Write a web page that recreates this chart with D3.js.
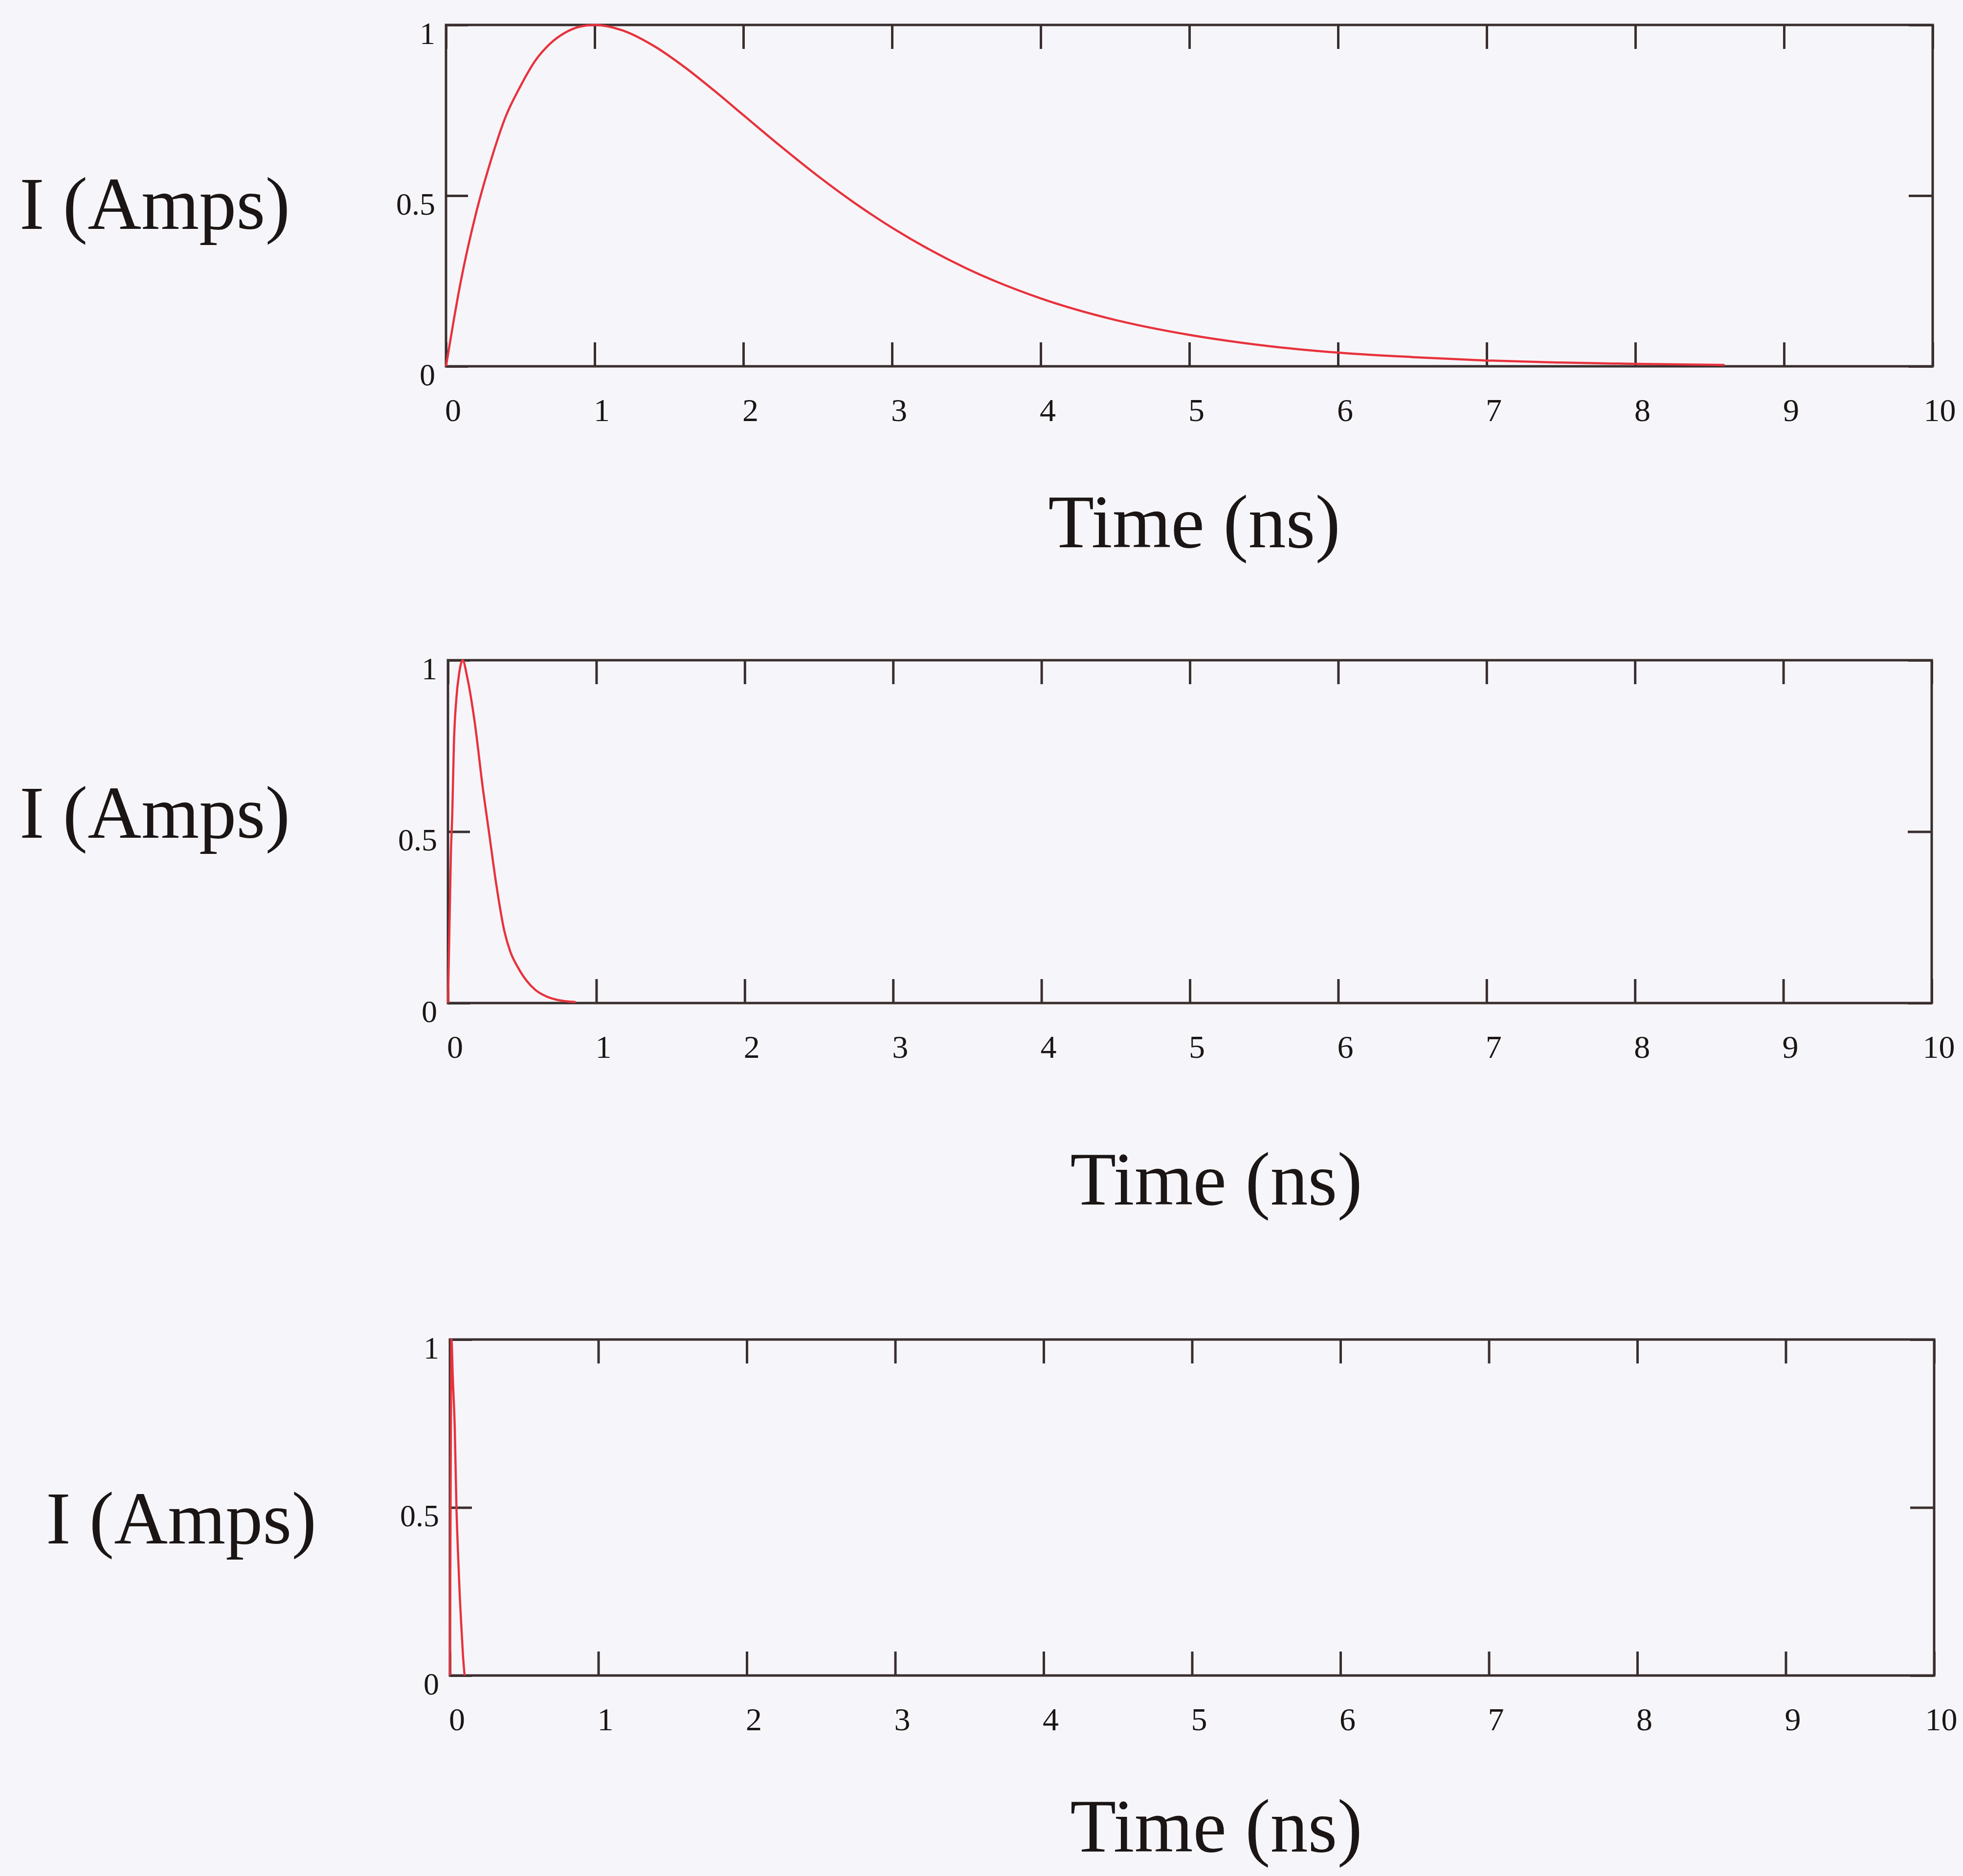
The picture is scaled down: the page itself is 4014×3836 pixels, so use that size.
<!DOCTYPE html>
<html>
<head>
<meta charset="utf-8">
<script src="https://cdn.jsdelivr.net/npm/d3@7"></script>
<style>
  html, body { margin: 0; padding: 0; background: #f6f6fa; }
  svg { display: block; }
</style>
</head>
<body>
<svg id="chart" width="4014" height="3836"></svg>
<script>
// ---------- DATA ----------
const xTickValues = [0, 1, 2, 3, 4, 5, 6, 7, 8, 9, 10];
const xTickLabels = ["0", "1", "2", "3", "4", "5", "6", "7", "8", "9", "10"];
const yTickValues = [0, 0.5, 1];
const yTickLabels = ["0", "0.5", "1"];
const yAxisTitle = "I (Amps)";
const xAxisTitle = "Time (ns)";

// Panel 1 (slow pulse, peak at ~1 ns)
const timeA = [0, 0.05, 0.1, 0.2, 0.3, 0.4, 0.5, 0.6, 0.7, 0.8, 0.9, 1.0, 1.2, 1.4, 1.6, 1.8, 2.0,
               2.25, 2.5, 2.75, 3.0, 3.5, 4.0, 4.5, 5.0, 5.5, 6.0, 6.5, 7.0, 7.5, 8.0, 8.6];
const currentA = [0, 0.13, 0.25, 0.445, 0.60, 0.73, 0.82, 0.895, 0.945, 0.977, 0.995, 1.0, 0.982, 0.938, 0.878, 0.809, 0.736,
               0.645, 0.558, 0.478, 0.406, 0.287, 0.199, 0.136, 0.092, 0.061, 0.040, 0.027, 0.017, 0.011, 0.007, 0.004];

// Panel 2 (fast pulse, peak at ~0.1 ns)
const timeB = [0, 0.01, 0.02, 0.029, 0.04, 0.056, 0.075, 0.099, 0.13, 0.18, 0.237, 0.276, 0.326, 0.38,
               0.42, 0.469, 0.53, 0.59, 0.66, 0.73, 0.8, 0.86];
const currentB = [0, 0.22, 0.44, 0.55, 0.755, 0.885, 0.96, 1.0, 0.95, 0.82, 0.62, 0.5, 0.345, 0.21,
               0.15, 0.106, 0.065, 0.038, 0.02, 0.01, 0.005, 0.003];

// Panel 3 (very fast pulse, peak at ~0.01 ns)
const timeC = [0, 0.003, 0.006, 0.01, 0.02, 0.033, 0.044, 0.055, 0.066, 0.077, 0.088, 0.099];
const currentC = [0, 0.35, 0.7, 1.0, 0.88, 0.73, 0.5, 0.36, 0.24, 0.146, 0.06, 0.0];

// ---------- LAYOUT ----------
const panels = [
  { t: timeA, v: currentA, left: 912, right: 3952, top: 51,   bottom: 749,  yTitleX: 40, yTitleY: 468,  xTitleX: 2442, xTitleY: 1119 },
  { t: timeB, v: currentB, left: 916, right: 3950, top: 1350, bottom: 2051, yTitleX: 40, yTitleY: 1713, xTitleX: 2487, xTitleY: 2463 },
  { t: timeC, v: currentC, left: 920, right: 3955, top: 2739, bottom: 3426, yTitleX: 94, yTitleY: 3156, xTitleX: 2487, xTitleY: 3786 }
];

const axisColor = "#3a2f2f";
const curveColor = "#e8323c";
const textColor = "#1b1515";
const serif = "'Liberation Serif', 'Times New Roman', serif";
const tickLen = 49;

const svg = d3.select("#chart");

panels.forEach(p => {
  const x = d3.scaleLinear().domain([0, 10]).range([p.left, p.right]);
  const y = d3.scaleLinear().domain([0, 1]).range([p.bottom, p.top]);
  const g = svg.append("g");

  // frame
  g.append("rect")
    .attr("x", p.left).attr("y", p.top)
    .attr("width", p.right - p.left).attr("height", p.bottom - p.top)
    .attr("fill", "none").attr("stroke", axisColor).attr("stroke-width", 5);

  // bottom axis with labels (inward ticks)
  const bottomAxis = g.append("g")
    .attr("transform", `translate(0,${p.bottom})`)
    .call(d3.axisBottom(x).tickValues(xTickValues)
      .tickFormat((d, i) => xTickLabels[i])
      .tickSizeInner(-tickLen).tickSizeOuter(0).tickPadding(65));
  // top axis (ticks only)
  const topAxis = g.append("g")
    .attr("transform", `translate(0,${p.top})`)
    .call(d3.axisTop(x).tickValues(xTickValues).tickFormat("")
      .tickSizeInner(-tickLen).tickSizeOuter(0));
  // left axis with labels
  const leftAxis = g.append("g")
    .attr("transform", `translate(${p.left},0)`)
    .call(d3.axisLeft(y).tickValues(yTickValues)
      .tickFormat((d, i) => yTickLabels[i])
      .tickSizeInner(-tickLen + 4).tickSizeOuter(0).tickPadding(22));
  // right axis (ticks only)
  const rightAxis = g.append("g")
    .attr("transform", `translate(${p.right},0)`)
    .call(d3.axisRight(y).tickValues(yTickValues).tickFormat("")
      .tickSizeInner(-tickLen).tickSizeOuter(0));

  [bottomAxis, topAxis, leftAxis, rightAxis].forEach(a => {
    a.select(".domain").remove();
    a.selectAll(".tick line").attr("stroke", axisColor).attr("stroke-width", 5);
  });

  bottomAxis.selectAll(".tick text")
    .attr("font-family", serif).attr("font-size", 66)
    .attr("fill", textColor).attr("dx", 14);
  leftAxis.selectAll(".tick text")
    .attr("font-family", serif).attr("font-size", 64)
    .attr("fill", textColor).attr("dy", "0.6em");

  // curve
  const pts = p.t.map((tt, i) => [tt, p.v[i]]);
  g.append("path")
    .datum(pts)
    .attr("fill", "none")
    .attr("stroke", curveColor)
    .attr("stroke-width", 4.5)
    .attr("stroke-linejoin", "round")
    .attr("d", d3.line().x(d => x(d[0])).y(d => y(d[1])).curve(d3.curveMonotoneX));

  // titles
  g.append("text")
    .attr("x", p.yTitleX).attr("y", p.yTitleY)
    .attr("font-family", serif).attr("font-size", 152)
    .attr("fill", textColor)
    .text(yAxisTitle);
  g.append("text")
    .attr("x", p.xTitleX).attr("y", p.xTitleY)
    .attr("text-anchor", "middle")
    .attr("font-family", serif).attr("font-size", 154)
    .attr("fill", textColor)
    .text(xAxisTitle);
});
</script>
</body>
</html>
